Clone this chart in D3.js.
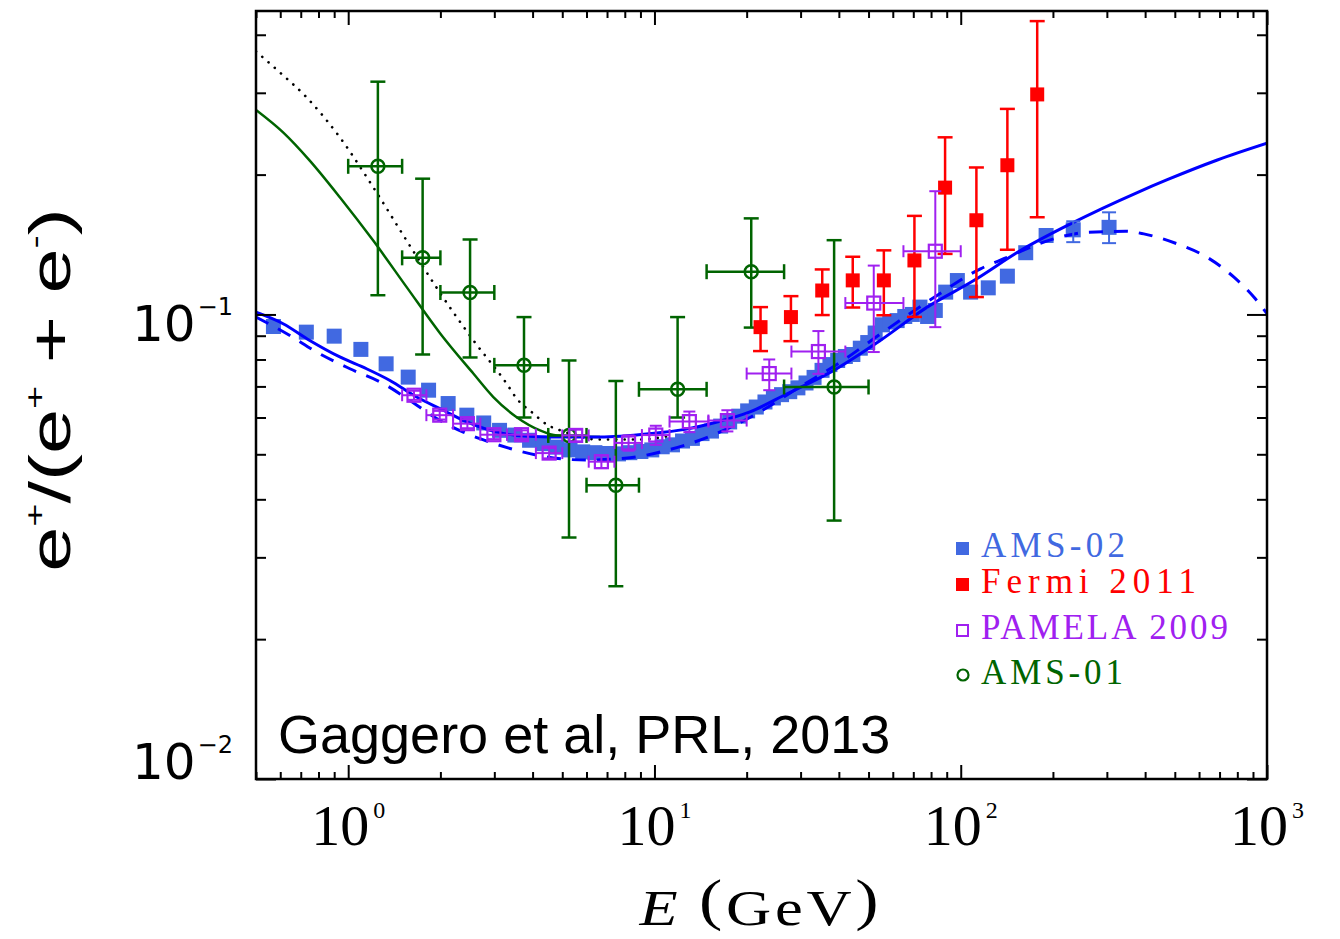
<!DOCTYPE html>
<html>
<head>
<meta charset="utf-8">
<script src="https://cdn.jsdelivr.net/npm/d3@7"></script>
<style>
  body { margin: 0; background: #fff; }
</style>
</head>
<body>
<div id="chart"></div>
<script>
// ---- data ----
// AMS-02 positron fraction
const ams02E = [0.57, 0.73, 0.90, 1.10, 1.33, 1.57, 1.83, 2.12, 2.44, 2.77,
  3.12, 3.50, 3.91, 4.34, 4.81, 5.30, 5.83, 6.39, 6.99, 7.63,
  8.31, 9.03, 9.80, 10.6, 11.45, 12.35, 13.3, 14.3, 15.35, 16.45,
  17.6, 18.85, 20.15, 21.5, 22.95, 24.45, 26.0, 27.65, 29.4, 31.25,
  33.2, 35.25, 37.4, 39.65, 42.0, 44.45, 47.0, 49.7, 52.55, 55.5,
  58.65, 62.0, 65.65, 69.5, 73.6, 77.95, 82.6, 89.3, 97.5, 107.7,
  123, 142, 163, 190, 233, 305];
const ams02V = [0.0942, 0.0916, 0.0898, 0.0841, 0.0783, 0.0733, 0.0687, 0.0643, 0.0607, 0.0584,
  0.0563, 0.0550, 0.0536, 0.0527, 0.0518, 0.0511, 0.0506, 0.0504, 0.0502, 0.0501,
  0.0504, 0.0507, 0.0511, 0.0519, 0.0524, 0.0534, 0.0541, 0.0554, 0.0561, 0.0575,
  0.0587, 0.0604, 0.0620, 0.0632, 0.0648, 0.0661, 0.0672, 0.0682, 0.0695, 0.0712,
  0.0732, 0.0758, 0.0780, 0.0796, 0.0812, 0.0820, 0.0846, 0.0870, 0.0912, 0.0950,
  0.0963, 0.0970, 0.0990, 0.1000, 0.1037, 0.0990, 0.1020, 0.1117, 0.1183, 0.1117,
  0.1141, 0.1209, 0.1358, 0.1479, 0.1521, 0.1540];
// only the last AMS-02 points have error bars larger than the marker
const ams02ErrE = [233, 305];
const ams02ErrV = [0.1521, 0.1540];
const ams02ErrLo = [0.1431, 0.1424];
const ams02ErrHi = [0.1587, 0.1659];

// Fermi 2011
const fermiE = [22.2, 27.9, 35.3, 44.4, 56.1, 70.6, 88.9, 112.5, 142, 177.7];
const fermiV = [0.0939, 0.0987, 0.1126, 0.1184, 0.1184, 0.1307, 0.1875, 0.1595, 0.2095, 0.2976];
const fermiLo = [0.0834, 0.0876, 0.0997, 0.1035, 0.0996, 0.0988, 0.1350, 0.1090, 0.1378, 0.1619];
const fermiHi = [0.1037, 0.1095, 0.1250, 0.1331, 0.1374, 0.1630, 0.2406, 0.2072, 0.2770, 0.4280];

// PAMELA 2009
const pamE = [1.64, 1.99, 2.45, 2.99, 3.68, 4.53, 5.53, 6.71, 8.23, 10.1, 13.0, 17.3, 23.7, 34.3, 52.0, 82.6];
const pamV = [0.0670, 0.0607, 0.0582, 0.0551, 0.0551, 0.0503, 0.0549, 0.0482, 0.0529, 0.0550, 0.0588, 0.0591, 0.0746, 0.0832, 0.1058, 0.1368];
const pamElo = [1.5, 1.8, 2.2, 2.7, 3.3, 4.1, 5.0, 6.1, 7.4, 9.1, 11.2, 15, 20, 28, 42, 65];
const pamEhi = [1.8, 2.2, 2.7, 3.3, 4.1, 5.0, 6.1, 7.4, 9.1, 11.2, 15, 20, 28, 42, 65, 100];
const pamVlo = [0.0655, 0.0594, 0.0569, 0.0539, 0.0539, 0.0490, 0.0533, 0.0467, 0.0509, 0.0524, 0.0558, 0.0560, 0.0687, 0.0745, 0.0830, 0.0939];
const pamVhi = [0.0685, 0.0620, 0.0595, 0.0563, 0.0563, 0.0516, 0.0565, 0.0497, 0.0549, 0.0576, 0.0618, 0.0622, 0.0800, 0.0921, 0.1274, 0.1842];

// AMS-01
const ams01E = [1.25, 1.75, 2.50, 3.75, 5.26, 7.48, 11.9, 20.7, 38.6];
const ams01V = [0.2084, 0.1324, 0.1115, 0.0777, 0.0549, 0.0429, 0.0690, 0.1236, 0.0698];
const ams01Lo = [0.110, 0.082, 0.0808, 0.0600, 0.0331, 0.0260, 0.0600, 0.0937, 0.0360];
const ams01Hi = [0.317, 0.196, 0.145, 0.0987, 0.0796, 0.0719, 0.0987, 0.1610, 0.1445];
const ams01Elo = [1.0, 1.5, 2.0, 3.0, 4.5, 6.0, 8.9, 14.8, 26.5];
const ams01Ehi = [1.5, 2.0, 3.0, 4.5, 6.0, 8.9, 14.8, 26.5, 50.0];

// model curves
const solidE = [0.5, 0.613, 0.749, 0.939, 1.148, 1.369, 1.673, 2.044, 2.438, 2.905, 3.55, 4.56, 6.64, 9.68,
  12.44, 16.0, 20.5, 27.1, 38.5, 54.6, 77.7, 110.3, 156.7, 228.3, 377, 472.6, 688.6, 1000];
const solidV = [0.1011, 0.0955, 0.0879, 0.0810, 0.0764, 0.0721, 0.0664, 0.0622, 0.0587, 0.0563, 0.0549, 0.0545, 0.0545, 0.0554,
  0.0565, 0.0587, 0.0617, 0.0675, 0.0758, 0.0879, 0.1037, 0.1183, 0.1373, 0.1567, 0.1830, 0.1950, 0.2150, 0.2336];
const dashedE = [0.5, 0.645, 0.788, 1.013, 1.301, 1.59, 1.945, 2.376, 2.905, 3.55, 4.56, 6.0, 8.0, 11.0, 15.0, 20.5,
  30.0, 40.0, 55.0, 79.6, 116, 138.2, 201.4, 258.9, 345.3, 396, 509, 623, 780, 907, 1000];
const dashedV = [0.0987, 0.0901, 0.0830, 0.0764, 0.0710, 0.0653, 0.0597, 0.0558, 0.0531, 0.0510, 0.0492, 0.0486, 0.0490, 0.0510, 0.0545, 0.0600,
  0.0700, 0.0785, 0.0910, 0.1075, 0.1254, 0.1318, 0.1455, 0.1503, 0.1510, 0.1491, 0.1419, 0.1339, 0.1203, 0.1089, 0.1004];
const greenE = [0.5, 0.613, 0.749, 0.939, 1.207, 1.552, 2.0, 2.562, 2.978, 3.55, 4.23, 4.80, 6.64];
const greenV = [0.2756, 0.2466, 0.2144, 0.1788, 0.1442, 0.1145, 0.0909, 0.0746, 0.0664, 0.0601, 0.0563, 0.0549, 0.0545];
const dotE = [0.5, 0.598, 0.731, 0.939, 1.207, 1.552, 2.0, 2.562, 3.29, 3.55, 4.0, 4.5, 4.86, 5.5, 6.47, 9.0, 11.0];
const dotV = [0.3683, 0.3320, 0.2934, 0.2406, 0.1879, 0.1442, 0.1110, 0.0880, 0.0710, 0.0659, 0.0614, 0.0577, 0.0565, 0.0550, 0.0538, 0.0538, 0.0547];

// axes
const xDomain = [0.5, 1000];
const yDomain = [0.01, 0.45];
const xMajor = [1, 10, 100, 1000];
const xExp = ['0', '1', '2', '3'];
const yMajor = [0.01, 0.1];
const yExp = ['\u22122', '\u22121'];

const legendNames = ['AMS-02', 'Fermi 2011', 'PAMELA 2009', 'AMS-01'];
const legendColors = ['#4169e1', '#ff0000', '#a020f0', '#006400'];

// ---- layout ----
const W = 1340, H = 939;
const plot = { left: 256, right: 1267, top: 11, bottom: 779 };

const svg = d3.select('#chart').append('svg')
    .attr('width', W)
    .attr('height', H);

const x = d3.scaleLog().domain(xDomain).range([plot.left, plot.right]);
const y = d3.scaleLog().domain(yDomain).range([plot.bottom, plot.top]);

svg.append('clipPath').attr('id', 'clip')
  .append('rect')
    .attr('x', plot.left).attr('y', plot.top)
    .attr('width', plot.right - plot.left)
    .attr('height', plot.bottom - plot.top);

const g = svg.append('g').attr('clip-path', 'url(#clip)');

const line = d3.line()
    .x(d => x(d[0]))
    .y(d => y(d[1]))
    .curve(d3.curveMonotoneX);

// AMS-02 squares first, the curves are drawn over them
g.append('g').selectAll('rect')
  .data(d3.zip(ams02E, ams02V))
  .join('rect')
    .attr('x', d => x(d[0]) - 7.5)
    .attr('y', d => y(d[1]) - 7.5)
    .attr('width', 15)
    .attr('height', 15)
    .attr('fill', '#4169e1');

g.append('path')
    .datum(d3.zip(greenE, greenV))
    .attr('d', line)
    .attr('fill', 'none')
    .attr('stroke', '#006400')
    .attr('stroke-width', 2.5);

g.append('path')
    .datum(d3.zip(dotE, dotV))
    .attr('d', line)
    .attr('fill', 'none')
    .attr('stroke', '#000')
    .attr('stroke-width', 2.6)
    .attr('stroke-linecap', 'round')
    .attr('stroke-dasharray', '0.1,8.2');

g.append('path')
    .datum(d3.zip(dashedE, dashedV))
    .attr('d', line)
    .attr('fill', 'none')
    .attr('stroke', '#0000ff')
    .attr('stroke-width', 3)
    .attr('stroke-dasharray', '14,11');

g.append('path')
    .datum(d3.zip(solidE, solidV))
    .attr('d', line)
    .attr('fill', 'none')
    .attr('stroke', '#0000ff')
    .attr('stroke-width', 3);

// error bars: vertical (lo/hi) and optional horizontal (elo/ehi) with caps
function errorBars(parent, rows, color, width, capV, capH) {
  const eb = parent.append('g')
      .attr('stroke', color)
      .attr('stroke-width', width)
      .attr('fill', 'none');
  rows.forEach(r => {
    const cx = x(r.e), cy = y(r.v);
    if (r.lo != null) {
      const y0 = y(r.lo), y1 = y(r.hi);
      eb.append('line').attr('x1', cx).attr('x2', cx).attr('y1', y0).attr('y2', y1);
      eb.append('line').attr('x1', cx - capV).attr('x2', cx + capV).attr('y1', y0).attr('y2', y0);
      eb.append('line').attr('x1', cx - capV).attr('x2', cx + capV).attr('y1', y1).attr('y2', y1);
    }
    if (r.elo != null) {
      const x0 = x(r.elo), x1 = x(r.ehi);
      eb.append('line').attr('x1', x0).attr('x2', x1).attr('y1', cy).attr('y2', cy);
      eb.append('line').attr('x1', x0).attr('x2', x0).attr('y1', cy - capH).attr('y2', cy + capH);
      eb.append('line').attr('x1', x1).attr('x2', x1).attr('y1', cy - capH).attr('y2', cy + capH);
    }
  });
}

// AMS-02 error bars
errorBars(g, ams02ErrE.map((e, i) => ({ e, v: ams02ErrV[i], lo: ams02ErrLo[i], hi: ams02ErrHi[i] })),
  '#4169e1', 2, 7, 0);

// AMS-01
const ams01Rows = ams01E.map((e, i) => ({
  e, v: ams01V[i], lo: ams01Lo[i], hi: ams01Hi[i], elo: ams01Elo[i], ehi: ams01Ehi[i]
}));
errorBars(g, ams01Rows, '#006400', 2.5, 7.5, 7.5);
g.append('g').selectAll('circle')
  .data(ams01Rows)
  .join('circle')
    .attr('cx', d => x(d.e))
    .attr('cy', d => y(d.v))
    .attr('r', 6.5)
    .attr('fill', 'none')
    .attr('stroke', '#006400')
    .attr('stroke-width', 2.5);

// Fermi
const fermiRows = fermiE.map((e, i) => ({ e, v: fermiV[i], lo: fermiLo[i], hi: fermiHi[i] }));
errorBars(g, fermiRows, '#ff0000', 2.5, 7.5, 0);
g.append('g').selectAll('rect')
  .data(fermiRows)
  .join('rect')
    .attr('x', d => x(d.e) - 7)
    .attr('y', d => y(d.v) - 7)
    .attr('width', 14)
    .attr('height', 14)
    .attr('fill', '#ff0000');

// PAMELA
const pamRows = pamE.map((e, i) => ({
  e, v: pamV[i], lo: pamVlo[i], hi: pamVhi[i], elo: pamElo[i], ehi: pamEhi[i]
}));
errorBars(g, pamRows, '#a020f0', 2, 6, 6);
g.append('g').selectAll('rect')
  .data(pamRows)
  .join('rect')
    .attr('x', d => x(d.e) - 6.5)
    .attr('y', d => y(d.v) - 6.5)
    .attr('width', 13)
    .attr('height', 13)
    .attr('fill', 'none')
    .attr('stroke', '#a020f0')
    .attr('stroke-width', 2.2);

// ---- frame and ticks (inward on all four sides) ----
const xMinor = x.ticks().filter(v => !xMajor.includes(v));
const yMinor = y.ticks().filter(v => !yMajor.includes(v));

function tickGroup(axis, transform) {
  const a = svg.append('g').attr('transform', transform).call(axis);
  a.select('.domain').remove();
  a.selectAll('line').attr('stroke', '#000').attr('stroke-width', 2);
  a.selectAll('text').remove();
}
const H0 = plot.bottom, T0 = plot.top, L0 = plot.left, R0 = plot.right;
tickGroup(d3.axisBottom(x).tickValues(xMinor).tickSize(-7).tickSizeOuter(0), `translate(0,${H0})`);
tickGroup(d3.axisBottom(x).tickValues(xMajor).tickSize(-14).tickSizeOuter(0), `translate(0,${H0})`);
tickGroup(d3.axisTop(x).tickValues(xMinor).tickSize(-7).tickSizeOuter(0), `translate(0,${T0})`);
tickGroup(d3.axisTop(x).tickValues(xMajor).tickSize(-14).tickSizeOuter(0), `translate(0,${T0})`);
tickGroup(d3.axisLeft(y).tickValues(yMinor).tickSize(-10).tickSizeOuter(0), `translate(${L0},0)`);
tickGroup(d3.axisLeft(y).tickValues(yMajor).tickSize(-20).tickSizeOuter(0), `translate(${L0},0)`);
tickGroup(d3.axisRight(y).tickValues(yMinor).tickSize(-10).tickSizeOuter(0), `translate(${R0},0)`);
tickGroup(d3.axisRight(y).tickValues(yMajor).tickSize(-20).tickSizeOuter(0), `translate(${R0},0)`);

svg.append('rect')
    .attr('x', L0).attr('y', T0)
    .attr('width', R0 - L0).attr('height', H0 - T0)
    .attr('fill', 'none')
    .attr('stroke', '#000')
    .attr('stroke-width', 2.5);

// x tick labels 10^n
xMajor.forEach((v, i) => {
  const t = svg.append('text')
      .attr('x', x(v))
      .attr('y', 845)
      .attr('text-anchor', 'middle')
      .attr('font-family', 'Liberation Serif, serif')
      .attr('font-size', 58)
      .attr('fill', '#000')
      .text('10');
  t.append('tspan')
      .attr('dy', -27)
      .attr('dx', 4)
      .attr('font-size', 24)
      .text(xExp[i]);
});

// y tick labels 10^-n
const yLabelDy = [0, 27];
yMajor.forEach((v, i) => {
  const t = svg.append('text')
      .attr('x', 233)
      .attr('y', y(v) + yLabelDy[i])
      .attr('text-anchor', 'end')
      .attr('font-family', 'DejaVu Sans, sans-serif')
      .attr('font-size', 50)
      .attr('fill', '#000')
      .text('10');
  t.append('tspan')
      .attr('dy', -26)
      .attr('dx', 2)
      .attr('font-size', 24)
      .text(yExp[i]);
});

// x axis title
const xt = svg.append('g')
    .attr('transform', `translate(761,925) scale(1.25,1)`)
  .append('text')
    .attr('text-anchor', 'middle')
    .attr('font-family', 'Liberation Serif, serif')
    .attr('font-size', 50)
    .attr('letter-spacing', 3)
    .attr('fill', '#000');
xt.append('tspan').attr('font-style', 'italic').text('E');
xt.append('tspan').attr('dx', 14).attr('font-size', 56).attr('dy', -6).text('(');
xt.append('tspan').attr('font-size', 50).attr('dy', 6).text('GeV');
xt.append('tspan').attr('font-size', 56).attr('dy', -6).text(')');

// y axis title
const yt = svg.append('g')
    .attr('transform', `translate(70,390) rotate(-90) scale(1.42,1)`)
  .append('text')
    .attr('text-anchor', 'middle')
    .attr('font-family', 'Liberation Sans, Arial, sans-serif')
    .attr('font-size', 57)
    .attr('fill', '#000');
yt.append('tspan').text('e');
yt.append('tspan').attr('dy', -26).attr('font-size', 28).text('+');
yt.append('tspan').attr('dy', 26).text('/(e');
yt.append('tspan').attr('dy', -26).attr('font-size', 28).text('+');
yt.append('tspan').attr('dy', 26).text(' + e');
yt.append('tspan').attr('dy', -26).attr('font-size', 28).text('-');
yt.append('tspan').attr('dy', 26).text(')');

// annotation
svg.append('text')
    .attr('x', 278)
    .attr('y', 753)
    .attr('font-family', 'Liberation Sans, Arial, sans-serif')
    .attr('font-size', 54)
    .attr('fill', '#000')
    .text('Gaggero et al, PRL, 2013');

// ---- legend ----
const legendY = [557, 593, 639, 684];
const legendWidth = [144, 215, 247, 142];
const legend = svg.append('g');
legendNames.forEach((name, i) => {
  const cy = legendY[i] - 9;
  const c = legendColors[i];
  if (i < 2) {
    legend.append('rect').attr('x', 956).attr('y', cy - 6).attr('width', 13).attr('height', 13).attr('fill', c);
  } else if (i === 2) {
    legend.append('rect').attr('x', 957).attr('y', cy - 5).attr('width', 11).attr('height', 11)
      .attr('fill', 'none').attr('stroke', c).attr('stroke-width', 2);
  } else {
    legend.append('circle').attr('cx', 963).attr('cy', cy).attr('r', 5.5)
      .attr('fill', 'none').attr('stroke', c).attr('stroke-width', 2.2);
  }
  legend.append('text')
      .attr('x', 981)
      .attr('y', legendY[i])
      .attr('font-family', 'Liberation Serif, serif')
      .attr('font-size', 35)
      .attr('textLength', legendWidth[i])
      .attr('lengthAdjust', 'spacing')
      .attr('fill', c)
      .text(name);
});
</script>
</body>
</html>
